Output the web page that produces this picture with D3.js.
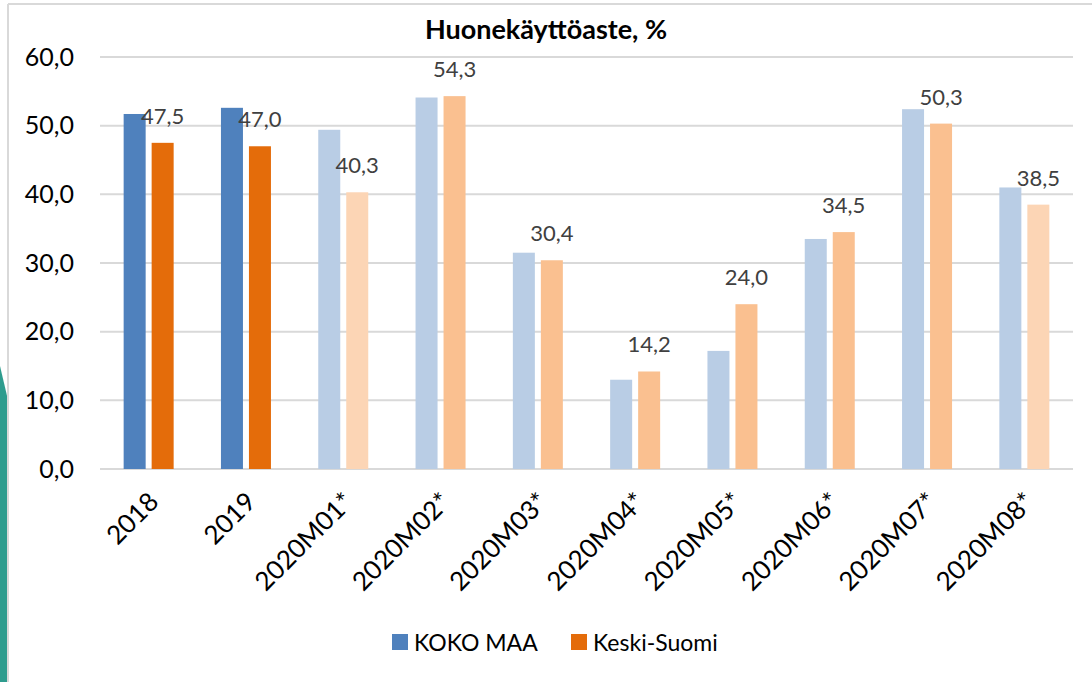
<!DOCTYPE html>
<meta charset="utf-8">
<style>
  body { margin: 0; background: #fff; }
  svg { display: block; font-family: Lato, "Open Sans", sans-serif; }
  .grid line { stroke: #d9d9d9; stroke-width: 2px; }
  .ytick text { font-size: 25px; fill: #000; }
  .xtick text { font-size: 26px; fill: #000; }
  .lbl { font-size: 22px; fill: #404040; }
</style>
<body>
<div id="chart"></div>
<script src="https://d3js.org/d3.v7.min.js"></script>
<script>
  // data
  var categories = ["2018", "2019", "2020M01*", "2020M02*", "2020M03*", "2020M04*",
                    "2020M05*", "2020M06*", "2020M07*", "2020M08*"];
  var kokoMaa    = [51.7, 52.6, 49.4, 54.1, 31.5, 13.0, 17.2, 33.5, 52.4, 41.0];
  var keskiSuomi = [47.5, 47.0, 40.3, 54.3, 30.4, 14.2, 24.0, 34.5, 50.3, 38.5];
  var seriesNames = ["KOKO MAA", "Keski-Suomi"];
  var yTicks = [0, 10, 20, 30, 40, 50, 60];

  var width = 1092, height = 682;
  var plot = {left: 100, right: 1073, top: 57, bottom: 469};

  // colours: full years dark, preliminary months lighter
  function blueFor(i) { return i < 2 ? "#4f81bd" : "#b9cde5"; }
  function orangeFor(i) {
    if (i < 2) return "#e46c0a";
    if (i == 2 || i == 9) return "#fcd5b5";
    return "#fac090";
  }

  var svg = d3.select("#chart").append("svg")
      .attr("width", width)
      .attr("height", height);

  // teal shape peeking in at the left edge
  svg.append("path")
      .attr("d", "M0,366 L8,400 L8,682 L0,682 Z")
      .attr("fill", "#2e9c8e");

  // chart frame
  svg.append("line").attr("x1", 8).attr("x2", width).attr("y1", 4).attr("y2", 4)
      .attr("stroke", "#d9d9d9").attr("stroke-width", 2);
  svg.append("line").attr("x1", 8).attr("x2", 8).attr("y1", 4).attr("y2", height)
      .attr("stroke", "#d9d9d9").attr("stroke-width", 2);

  var x = d3.scaleBand()
      .domain(categories)
      .range([plot.left, plot.right]);

  var x1 = d3.scaleBand()
      .domain(seriesNames)
      .range([0, 50])
      .paddingInner(0.214);

  var y = d3.scaleLinear()
      .domain([0, 60])
      .range([plot.bottom, plot.top]);

  // gridlines
  var grid = svg.append("g").attr("class", "grid");
  grid.selectAll("line")
      .data(yTicks)
    .enter().append("line")
      .attr("x1", plot.left)
      .attr("x2", plot.right)
      .attr("y1", function(d) { return y(d); })
      .attr("y2", function(d) { return y(d); });

  // y tick labels
  svg.append("g").attr("class", "ytick")
    .selectAll("text")
      .data(yTicks)
    .enter().append("text")
      .attr("x", 74)
      .attr("y", function(d) { return y(d); })
      .attr("dy", "0.35em")
      .attr("text-anchor", "end")
      .text(function(d) { return d3.format(".1f")(d).replace(".", ","); });

  // bars
  var groups = svg.append("g").selectAll("g")
      .data(categories)
    .enter().append("g")
      .attr("transform", function(d) {
        return "translate(" + (x(d) + x.bandwidth() / 2 - 25) + ",0)"; });

  groups.append("rect")
      .attr("x", x1("KOKO MAA"))
      .attr("width", x1.bandwidth())
      .attr("y", function(d, i) { return y(kokoMaa[i]); })
      .attr("height", function(d, i) { return y(0) - y(kokoMaa[i]); })
      .attr("fill", function(d, i) { return blueFor(i); });

  groups.append("rect")
      .attr("x", x1("Keski-Suomi"))
      .attr("width", x1.bandwidth())
      .attr("y", function(d, i) { return y(keskiSuomi[i]); })
      .attr("height", function(d, i) { return y(0) - y(keskiSuomi[i]); })
      .attr("fill", function(d, i) { return orangeFor(i); });

  // value labels on the Keski-Suomi bars
  groups.append("text")
      .attr("class", "lbl")
      .attr("x", x1("Keski-Suomi") + x1.bandwidth() / 2)
      .attr("y", function(d, i) { return y(keskiSuomi[i]) - 19; })
      .attr("text-anchor", "middle")
      .text(function(d, i) { return d3.format(".1f")(keskiSuomi[i]).replace(".", ","); });

  // x tick labels, rotated
  svg.append("g").attr("class", "xtick")
    .selectAll("text")
      .data(categories)
    .enter().append("text")
      .attr("transform", function(d) {
        return "translate(" + (x(d) + x.bandwidth() / 2 + 5) + ",497) rotate(-45)"; })
      .attr("text-anchor", "end")
      .attr("dy", "0.35em")
      .text(function(d) { return d; });

  // title
  svg.append("text")
      .attr("x", 546)
      .attr("y", 39)
      .attr("text-anchor", "middle")
      .style("font-size", "27px")
      .style("font-weight", "bold")
      .text("Huonekäyttöaste, %");

  // legend
  var legend = svg.append("g");
  var legendX = [392, 571];
  var legendColors = ["#4f81bd", "#e46c0a"];
  seriesNames.forEach(function(name, i) {
    legend.append("rect")
        .attr("x", legendX[i]).attr("y", 634)
        .attr("width", 16).attr("height", 16)
        .attr("fill", legendColors[i]);
    legend.append("text")
        .attr("x", legendX[i] + 22).attr("y", 651)
        .style("font-size", "23px")
        .text(name);
  });
</script>
</body>
